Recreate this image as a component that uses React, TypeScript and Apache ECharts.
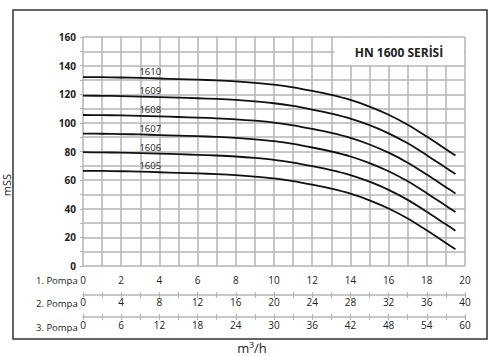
import React, { useEffect, useRef } from "react";
import * as echarts from "echarts";

const flows = [0, 1, 2, 3, 4, 5, 6, 7, 8, 9, 10, 11, 12, 13, 14, 15, 16, 17, 18, 19, 19.5];
const h1610 = [132, 131.9, 131.7, 131.4, 131, 130.6, 130.2, 129.7, 129, 128, 126.7, 124.8, 122.3, 119.5, 116, 111.4, 105.7, 98.7, 90.4, 81.6, 77.2];
const h1609 = [119, 118.9, 118.7, 118.4, 118, 117.6, 117.2, 116.7, 116, 115, 113.7, 111.8, 109.3, 106.5, 103, 98.4, 92.7, 85.7, 77.4, 68.6, 64.2];
const h1608 = [105.5, 105.4, 105.2, 104.9, 104.5, 104.1, 103.7, 103.2, 102.5, 101.5, 100.2, 98.3, 95.8, 93, 89.5, 84.9, 79.2, 72.2, 63.9, 55.1, 50.7];
const h1607 = [92.5, 92.4, 92.2, 91.9, 91.5, 91.1, 90.7, 90.2, 89.5, 88.5, 87.2, 85.3, 82.8, 80, 76.5, 71.9, 66.2, 59.2, 50.9, 42.1, 37.7];
const h1606 = [79.5, 79.4, 79.2, 78.9, 78.5, 78.1, 77.7, 77.2, 76.5, 75.5, 74.2, 72.3, 69.8, 67, 63.5, 58.9, 53.2, 46.2, 37.9, 29.1, 24.7];
const h1605 = [66.5, 66.4, 66.2, 65.9, 65.5, 65.1, 64.7, 64.2, 63.5, 62.5, 61.2, 59.3, 56.8, 54, 50.5, 45.9, 40.2, 33.2, 24.9, 16.1, 11.7];

const curveNames = ["1610", "1609", "1608", "1607", "1606", "1605"];
const curves = [h1610, h1609, h1608, h1607, h1606, h1605];
const pumpLabels = ["1. Pompa", "2. Pompa", "3. Pompa"];
const title = "HN 1600 SERİSİ";
const yName = "mSS";
const xName = "m³/h";

const FONT = "'Open Sans', 'Noto Sans', sans-serif";
const GRID = "#b5b5b5";
const TXT = "#222";

export default function App() {
  const ref = useRef<HTMLDivElement>(null);
  useEffect(() => {
    if (!ref.current) return;
    const chart = echarts.init(ref.current, undefined, { renderer: "svg" });
    const labelIdx = 3;
    const series = curves.map((c, i) => ({
      type: "line",
      name: curveNames[i],
      xAxisIndex: 0,
      yAxisIndex: 0,
      data: flows.map((q, k) => [q, c[k]]),
      smooth: 0.3,
      showSymbol: false,
      symbol: "none",
      lineStyle: { color: "#111", width: 1.8 },
      z: 5,
      markPoint: {
        symbol: "circle",
        symbolSize: 0,
        silent: true,
        data: [
          {
            coord: [flows[labelIdx], c[labelIdx]],
            label: {
              show: true,
              formatter: curveNames[i],
              position: "top",
              distance: 1,
              offset: [10, 0],
              fontSize: 9.5,
              lineHeight: 10,
              fontFamily: FONT,
              color: TXT,
            },
          },
        ],
      },
    }));

    const pumpAxis = (max: number, interval: number, labelEvery: number, offset: number, margin: number) => [
      {
        type: "value",
        position: "bottom",
        min: 0,
        max,
        interval,
        offset,
        axisLine: { show: true, lineStyle: { color: GRID, width: 1.5 } },
        axisTick: { show: true, length: 3, inside: false, lineStyle: { color: GRID, width: 1.2 } },
        splitLine: { show: false },
        axisLabel: {
          margin,
          fontSize: 10,
          fontFamily: FONT,
          color: TXT,
          formatter: (v: number) => (v % labelEvery === 0 ? String(v) : ""),
        },
      },
      {
        type: "value",
        position: "bottom",
        min: 0,
        max,
        interval,
        offset,
        axisLine: { show: false },
        axisTick: { show: true, length: 3, inside: true, lineStyle: { color: GRID, width: 1.2 } },
        splitLine: { show: false },
        axisLabel: { show: false },
      },
    ];

    chart.setOption({
      animation: false,
      backgroundColor: "#fff",
      grid: { left: 83, right: 35, top: 37, bottom: 90, containLabel: false },
      xAxis: [
        {
          type: "value",
          position: "bottom",
          min: 0,
          max: 20,
          interval: 1,
          axisLine: { show: false },
          axisTick: { show: false },
          splitLine: { show: true, lineStyle: { color: GRID, width: 1.5 } },
          axisLabel: {
            margin: 9,
            fontSize: 10,
            fontFamily: FONT,
            color: TXT,
            formatter: (v: number) => (v % 2 === 0 ? String(v) : ""),
          },
        },
        ...pumpAxis(40, 2, 4, 29, 2),
        ...pumpAxis(60, 3, 6, 51, 3),
      ],
      yAxis: {
        type: "value",
        min: 0,
        max: 160,
        interval: 10,
        axisLine: { show: false },
        axisTick: { show: true, length: 3, lineStyle: { color: GRID, width: 1.2 } },
        splitLine: { show: true, lineStyle: { color: GRID, width: 1.5 } },
        axisLabel: {
          margin: 7,
          fontSize: 10,
          fontWeight: "bold",
          fontFamily: FONT,
          color: TXT,
          formatter: (v: number) => (v % 20 === 0 ? String(v) : ""),
        },
      },
      series,
      graphic: [
        {
          type: "rect",
          shape: { x: 13, y: 10, width: 474, height: 329 },
          style: { fill: "none", stroke: "#333", lineWidth: 1.5 },
          silent: true,
          z: 10,
        },
        {
          type: "rect",
          shape: { x: 334.5, y: 38, width: 129.5, height: 27 },
          style: { fill: "#fff" },
          silent: true,
          z: 10,
        },
        {
          type: "text",
          x: 399,
          y: 52.5,
          style: {
            text: title,
            fontSize: 12,
            fontWeight: "bold",
            fontFamily: FONT,
            fill: TXT,
            align: "center",
            verticalAlign: "middle",
          },
          z: 11,
        },
        ...pumpLabels.map((t, i) => ({
          type: "text",
          x: 36,
          y: [280, 303, 327][i],
          style: {
            text: t,
            fontSize: 9.5,
            fontFamily: FONT,
            fill: TXT,
            align: "left",
            verticalAlign: "middle",
          },
          z: 11,
        })),
        {
          type: "text",
          x: 6,
          y: 185,
          rotation: Math.PI / 2,
          style: {
            text: yName,
            fontSize: 11,
            fontFamily: FONT,
            fill: TXT,
            align: "center",
            verticalAlign: "middle",
          },
          z: 11,
        },
        {
          type: "text",
          x: 252,
          y: 348,
          style: {
            text: xName,
            fontSize: 13,
            fontFamily: FONT,
            fill: TXT,
            align: "center",
            verticalAlign: "middle",
          },
          z: 11,
        },
      ],
    });
    return () => chart.dispose();
  }, []);
  return (
    <div
      ref={ref}
      style={{ position: "fixed", left: 0, top: 0, width: 500, height: 356 }}
    />
  );
}
